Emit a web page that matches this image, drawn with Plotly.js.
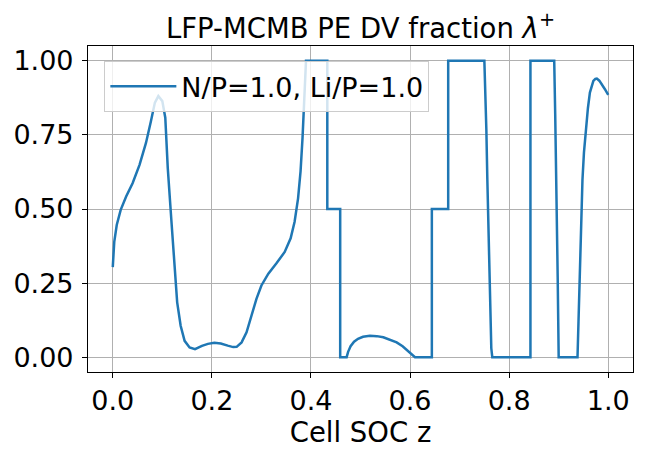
<!DOCTYPE html>
<html>
<head>
<meta charset="utf-8">
<script src="https://cdn.plot.ly/plotly-3.0.1.min.js"></script>
<style>
  html, body { margin: 0; padding: 0; background: #ffffff; }
  #plot { width: 647px; height: 460px; }
</style>
</head>
<body>
<div id="plot"></div>
<script>
  // Werte (Cell SOC z gegen lambda+)
  var socZ = [
    0.000, 0.003, 0.008, 0.016, 0.027, 0.040, 0.054, 0.067, 0.077, 0.085,
    0.092, 0.100, 0.106, 0.111, 0.118, 0.125, 0.130, 0.137, 0.145, 0.155,
    0.166, 0.180, 0.192, 0.205, 0.218, 0.232, 0.243, 0.250, 0.260, 0.270,
    0.280, 0.290, 0.300, 0.314, 0.330, 0.347, 0.359, 0.367, 0.374, 0.379,
    0.383, 0.386, 0.389, 0.390, 0.433, 0.433, 0.459, 0.459, 0.472, 0.475,
    0.480, 0.487, 0.495, 0.505, 0.519, 0.533, 0.546, 0.560, 0.573, 0.585,
    0.597, 0.610, 0.644, 0.644, 0.677, 0.677, 0.750, 0.752, 0.754, 0.756,
    0.758, 0.760, 0.762, 0.764, 0.766, 0.843, 0.843, 0.891, 0.893, 0.896,
    0.898, 0.900, 0.938, 0.940, 0.943, 0.946, 0.948, 0.951, 0.955, 0.959,
    0.963, 0.967, 0.970, 0.974, 0.977, 0.982, 0.987, 0.993, 1.000
  ];
  var lambdaPlus = [
    0.304, 0.389, 0.446, 0.497, 0.542, 0.587, 0.649, 0.723, 0.796, 0.859,
    0.881, 0.864, 0.808, 0.638, 0.468, 0.299, 0.185, 0.106, 0.055, 0.033,
    0.027, 0.038, 0.045, 0.049, 0.046, 0.039, 0.034, 0.035, 0.050, 0.084,
    0.140, 0.197, 0.242, 0.282, 0.316, 0.355, 0.401, 0.457, 0.536, 0.627,
    0.740, 0.853, 0.978, 1.000, 1.000, 0.500, 0.500, 0.000, 0.000, 0.018,
    0.037, 0.052, 0.062, 0.069, 0.072, 0.071, 0.067, 0.059, 0.050, 0.037,
    0.020, 0.000, 0.000, 0.500, 0.500, 1.000, 1.000, 0.900, 0.768, 0.600,
    0.429, 0.250, 0.100, 0.030, 0.000, 0.000, 1.000, 1.000, 0.820, 0.542,
    0.270, 0.000, 0.000, 0.120, 0.316, 0.480, 0.598, 0.690, 0.768, 0.840,
    0.893, 0.920, 0.932, 0.939, 0.940, 0.933, 0.921, 0.905, 0.885
  ];

  var seriesName = "N/P=1.0, Li/P=1.0";

  var xTickVals = [0, 0.2, 0.4, 0.6, 0.8, 1.0];
  var xTickText = ["0.0", "0.2", "0.4", "0.6", "0.8", "1.0"];
  var yTickVals = [0, 0.25, 0.5, 0.75, 1.0];
  var yTickText = ["0.00", "0.25", "0.50", "0.75", "1.00"];

  var FONT = "DejaVu Sans, sans-serif";

  var traces = [{
    x: socZ,
    y: lambdaPlus,
    type: "scatter",
    mode: "lines",
    name: seriesName,
    line: { color: "#1f77b4", width: 2.5 }
  }];

  var layout = {
    width: 647,
    height: 460,
    margin: { l: 88, r: 14, t: 46, b: 88 },
    paper_bgcolor: "#ffffff",
    plot_bgcolor: "#ffffff",
    font: { family: FONT, size: 27, color: "#000000" },

    title: {
      text: "LFP-MCMB PE DV fraction <i>λ</i><sup>+</sup>",
      font: { family: FONT, size: 27.5, color: "#000000" },
      x: 0.5,
      xref: "paper",
      y: 1,
      yref: "paper",
      yanchor: "bottom",
      pad: { b: 8 }
    },

    xaxis: {
      title: { text: "Cell SOC z", standoff: 6, font: { size: 27.5 } },
      range: [-0.05, 1.05],
      tickmode: "array",
      tickvals: xTickVals,
      ticktext: xTickText,
      ticks: "outside",
      ticklen: 5,
      tickwidth: 1.1,
      tickcolor: "#000000",
      showline: true,
      linecolor: "#000000",
      linewidth: 1.1,
      mirror: true,
      showgrid: true,
      gridcolor: "#b0b0b0",
      gridwidth: 1.1,
      zeroline: false,
      automargin: false
    },

    yaxis: {
      range: [-0.05, 1.05],
      tickmode: "array",
      tickvals: yTickVals,
      ticktext: yTickText,
      ticks: "outside",
      ticklen: 5,
      tickwidth: 1.1,
      tickcolor: "#000000",
      ticklabelstandoff: 3,
      showline: true,
      linecolor: "#000000",
      linewidth: 1.1,
      mirror: true,
      showgrid: true,
      gridcolor: "#b0b0b0",
      gridwidth: 1.1,
      zeroline: false,
      automargin: false
    },

    showlegend: true,
    legend: {
      x: 0.03,
      xanchor: "left",
      y: 0.953,
      yanchor: "top",
      bgcolor: "rgba(255,255,255,0.8)",
      bordercolor: "#cccccc",
      borderwidth: 1,
      itemwidth: 66,
      font: { family: FONT, size: 27, color: "#000000" }
    }
  };

  Plotly.newPlot("plot", traces, layout, { displayModeBar: false, responsive: false });
</script>
</body>
</html>
